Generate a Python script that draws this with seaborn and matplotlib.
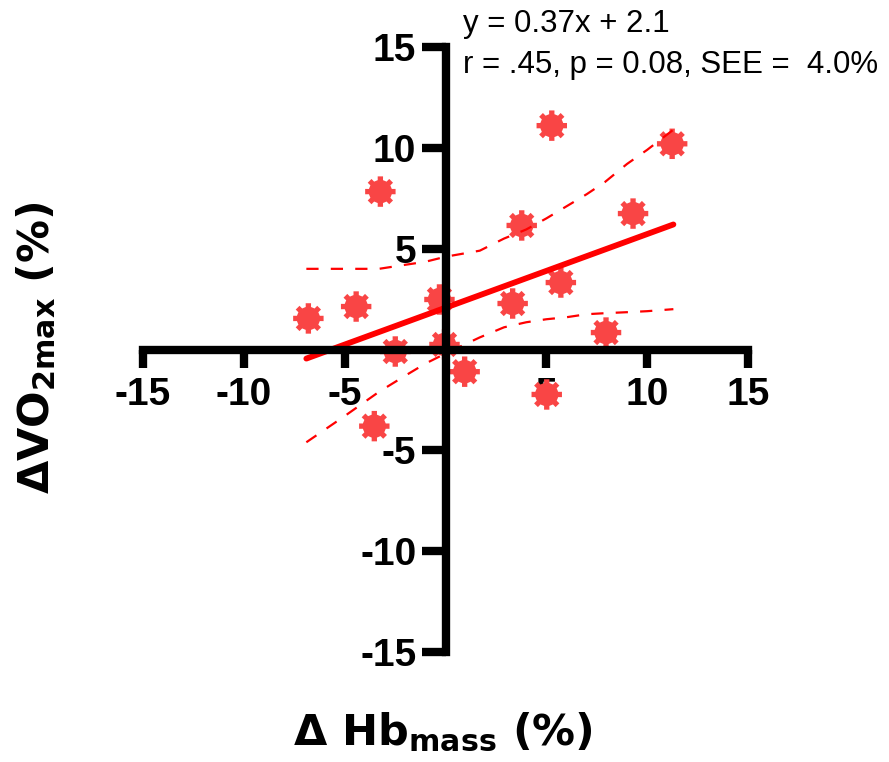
import numpy as np
import pandas as pd
import matplotlib
matplotlib.use("Agg")
import matplotlib.pyplot as plt
from matplotlib.path import Path
import seaborn as sns

# ---- data ----
hb_mass = [-6.8, -4.43, -3.53, -3.23, -2.49, -0.3, -0.05, 0.95, 3.33, 3.78,
           5.02, 5.27, 5.72, 7.96, 9.3, 11.24]
vo2max = [1.54, 2.13, -3.8, 7.83, -0.1, 2.48, 0.25, -1.1, 2.28, 6.15,
          -2.23, 11.1, 3.32, 0.84, 6.74, 10.2]

fit_x = [-6.9, 11.3]
fit_y = [-0.45, 6.2]

band_x = [-6.9, -5.0, -3.3, -2.0, -1.0, 0.0, 1.7, 2.9, 4.0, 5.0, 6.0, 7.0, 7.9, 9.0, 10.0, 11.3]
band_upper = [4.0, 4.0, 4.0, 4.2, 4.35, 4.6, 4.9, 5.5, 5.95, 6.5, 7.1, 7.7, 8.3, 9.2, 9.9, 10.9]
band_lower = [-4.6, -3.3, -2.1, -1.3, -0.7, -0.2, 0.6, 1.1, 1.35, 1.5, 1.6, 1.75, 1.8, 1.85, 1.9, 2.0]

ticks = [-15, -10, -5, 5, 10, 15]
tick_labels = ["-15", "-10", "-5", "5", "10", "15"]

eq_text = "y = 0.37x + 2.1"
stat_text = "r = .45, p = 0.08, SEE =  4.0%"

# ---- style ----
sns.set_style("white")
plt.rcParams["font.family"] = ["Liberation Sans", "DejaVu Sans"]
plt.rcParams["axes.unicode_minus"] = False
plt.rcParams["text.color"] = "black"
plt.rcParams["mathtext.fontset"] = "dejavusans"
plt.rcParams["mathtext.default"] = "bf"

W, H = 889, 762
fig = plt.figure(figsize=(W / 100, H / 100), dpi=100)
ax = fig.add_axes([143 / W, 1 - 652 / H, 605 / W, 605 / H])

# gear-like marker
verts = []
r_in, r_out = 0.76, 1.0
for i in range(8):
    th = np.deg2rad(i * 45)
    for r, d in [(r_in, -13), (r_out, -10), (r_out, 10), (r_in, 13)]:
        a = th + np.deg2rad(d)
        verts.append((r * np.cos(a), r * np.sin(a)))
verts.append(verts[0])
codes = [Path.MOVETO] + [Path.LINETO] * (len(verts) - 2) + [Path.CLOSEPOLY]
gear = Path(verts, codes)

df = pd.DataFrame({"hb": hb_mass, "vo2": vo2max})
sns.scatterplot(data=df, x="hb", y="vo2", marker=gear, s=480, color="#F94545",
                edgecolor="none", linewidth=0, ax=ax, zorder=1)

sns.lineplot(x=fit_x, y=fit_y, color="#FF0000", linewidth=4.2, ax=ax, zorder=2,
             sort=False)
for yb in (band_upper, band_lower):
    ax.plot(band_x, yb, color="#FF0000", linewidth=1.6, dashes=(5.5, 5.5), zorder=2)

ax.set_xlim(-15, 15)
ax.set_ylim(-15, 15)
ax.set_xlabel("")
ax.set_ylabel("")

for s in ("top", "right"):
    ax.spines[s].set_visible(False)
ax.spines["left"].set_position(("data", 0))
ax.spines["bottom"].set_position(("data", 0))
for s in ("left", "bottom"):
    ax.spines[s].set_linewidth(6)
    ax.spines[s].set_color("black")
    ax.spines[s].set_zorder(3)

ax.set_xticks(ticks)
ax.set_xticklabels(tick_labels)
ax.set_yticks(ticks)
ax.set_yticklabels(tick_labels)
ax.tick_params(axis="x", direction="out", length=13, width=6, pad=7,
               labelsize=28, bottom=True, colors="black")
ax.tick_params(axis="y", direction="out", length=17, width=6, pad=4,
               labelsize=28, left=True, colors="black")
for lab in ax.get_xticklabels() + ax.get_yticklabels():
    lab.set_fontweight("bold")

fig.text(463 / W, 1 - 32 / H, eq_text, fontsize=22.5, ha="left", va="baseline",
         color="black")
fig.text(463 / W, 1 - 73 / H, stat_text, fontsize=22.5, ha="left", va="baseline",
         color="black")

fig.text(443 / W, 1 - 745 / H, r"Δ Hb$_{mass}$ (%)", fontsize=31,
         family="DejaVu Sans", fontweight="bold", ha="center", va="baseline",
         color="black")
fig.text(37 / W, 1 - 348 / H, r"ΔVO$_{2max}$ (%)", fontsize=31,
         family="DejaVu Sans", fontweight="bold", ha="center", va="center",
         rotation=90, color="black")

fig.savefig("out.png", dpi=100)
